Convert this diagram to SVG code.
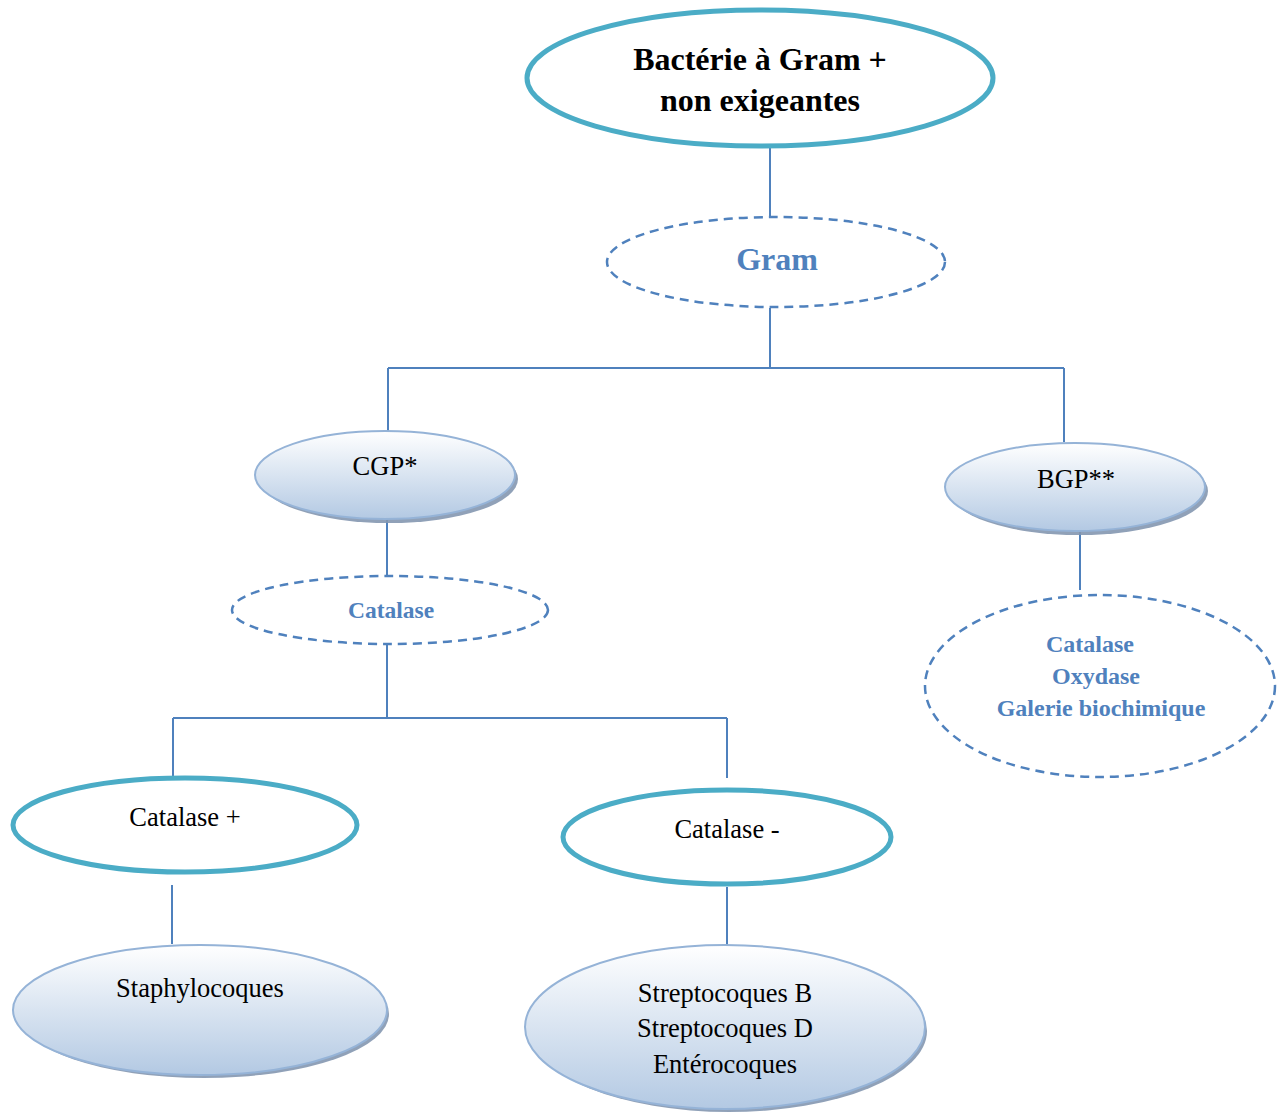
<svg xmlns="http://www.w3.org/2000/svg" width="1286" height="1113" viewBox="0 0 1286 1113">
<style>
.t{font-family:"Liberation Serif","Times New Roman",serif;fill:#000;text-anchor:middle}
.b{font-family:"Liberation Serif","Times New Roman",serif;font-weight:bold;fill:#4F81BD;text-anchor:middle}
.thick{fill:#fff;stroke:#4BACC6;stroke-width:5}
.dash{fill:#fff;stroke:#4F81BD;stroke-width:2.5;stroke-dasharray:9 6}
.soft{fill:url(#g);stroke:#95B3D7;stroke-width:2}
.sh{fill:#8497B0;opacity:0.9}
.c{stroke:#4F81BD;stroke-width:2;fill:none}
</style>
<defs>
<linearGradient id="g" x1="0" y1="0" x2="0" y2="1">
<stop offset="0" stop-color="#ffffff"/>
<stop offset="1" stop-color="#b3c9e3"/>
</linearGradient>
</defs>
<rect width="1286" height="1113" fill="#fff"/>
<g id="connectors">
<path class="c" d="M770 148V216M770 308V368M388 368H1064M388 368V432M1064 368V442"/>
<path class="c" d="M387 520V577M387 645V718M173 718H727M173 718V778M727 718V778"/>
<path class="c" d="M172 885V944M727 887V945M1080 532V590"/>
</g>
<g id="n-top">
<ellipse class="thick" cx="760" cy="78" rx="233" ry="68"/>
<text class="t" x="760" y="70" font-size="32" font-weight="bold">Bactérie à Gram +</text>
<text class="t" x="760" y="111" font-size="32" font-weight="bold">non exigeantes</text>
</g>
<g id="n-gram">
<ellipse class="dash" cx="776" cy="262" rx="169" ry="45"/>
<text class="b" x="777" y="270" font-size="32">Gram</text>
</g>
<g id="n-cgp">
<ellipse class="sh" cx="389" cy="479" rx="129" ry="44"/>
<ellipse class="soft" cx="385" cy="475" rx="130" ry="44"/>
<text class="t" x="385" y="475" font-size="26.5">CGP*</text>
</g>
<g id="n-bgp">
<ellipse class="sh" cx="1079" cy="491" rx="129" ry="44"/>
<ellipse class="soft" cx="1075" cy="487" rx="130" ry="44"/>
<text class="t" x="1076" y="488" font-size="26.5">BGP**</text>
</g>
<g id="n-catalase">
<ellipse class="dash" cx="390" cy="610" rx="158" ry="34"/>
<text class="b" x="391" y="618" font-size="23.5">Catalase</text>
</g>
<g id="n-bgp-tests">
<ellipse class="dash" cx="1100" cy="686" rx="175" ry="91"/>
<text class="b" x="1090" y="652" font-size="24">Catalase</text>
<text class="b" x="1096" y="684" font-size="24">Oxydase</text>
<text class="b" x="1101" y="716" font-size="24">Galerie biochimique</text>
</g>
<g id="n-catplus">
<ellipse class="thick" cx="185" cy="825" rx="172" ry="47"/>
<text class="t" x="185" y="826" font-size="26.5">Catalase +</text>
</g>
<g id="n-catminus">
<ellipse class="thick" cx="727" cy="837" rx="164" ry="47"/>
<text class="t" x="727" y="838" font-size="26.5">Catalase -</text>
</g>
<g id="n-staph">
<ellipse class="sh" cx="204" cy="1014" rx="185" ry="64"/>
<ellipse class="soft" cx="200" cy="1010" rx="187" ry="65"/>
<text class="t" x="200" y="997" font-size="26.5">Staphylocoques</text>
</g>
<g id="n-strep">
<ellipse class="sh" cx="729" cy="1031" rx="198" ry="81"/>
<ellipse class="soft" cx="725" cy="1027" rx="200" ry="82"/>
<text class="t" x="725" y="1002" font-size="26.5">Streptocoques B</text>
<text class="t" x="725" y="1037" font-size="26.5">Streptocoques D</text>
<text class="t" x="725" y="1073" font-size="26.5">Entérocoques</text>
</g>
</svg>
